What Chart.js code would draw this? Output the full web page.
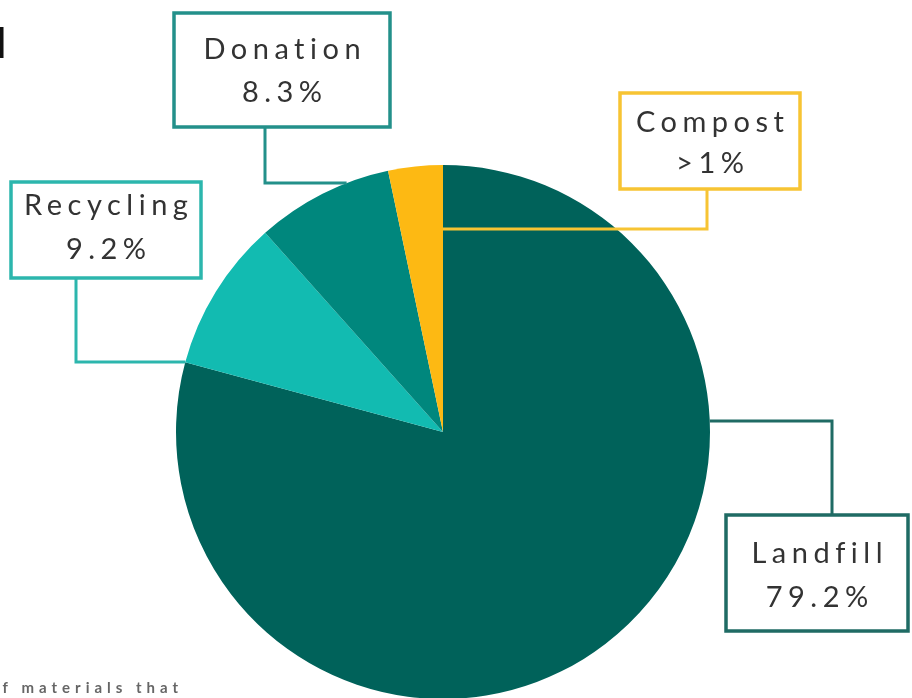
<!DOCTYPE html>
<html>
<head>
<meta charset="utf-8">
<script src="https://cdn.jsdelivr.net/npm/chart.js@4.4.1/dist/chart.umd.min.js"></script>
<style>
  html, body { margin: 0; padding: 0; background: #fff; }
</style>
</head>
<body>
<canvas id="wasteChart" width="912" height="698"></canvas>
<script>
const categories = ["Landfill", "Recycling", "Donation", "Compost"];
const shares = [79.2, 9.2, 8.3, 3.3];
const shareLabels = ["79.2%", "9.2%", "8.3%", ">1%"];
const sliceColors = ["#00625a", "#12bbb1", "#00877d", "#fdb913"];
const boxColors = ["#1f6b64", "#2cb6ad", "#23908a", "#f7c433"];

// callout boxes [x, y, w, h], elbow leader: vertical drop at dropX, horizontal run at runY
const callouts = [
  { box: [726, 515, 182, 116], dropX: 832, runY: 421, side: "right", textY: [563, 607] },
  { box: [11, 182, 190, 96], dropX: 76, runY: 362, side: "left", textY: [215, 259] },
  { box: [174, 13, 216, 114], dropX: 265, runY: 183, side: "left", textY: [59, 102] },
  { box: [620, 93, 180, 96], dropX: 707, runY: 229, side: "center", textY: [132, 173] }
];

const calloutPlugin = {
  id: "callouts",
  afterDatasetsDraw(chart) {
    const ctx = chart.ctx;
    const arc = chart.getDatasetMeta(0).data[0];
    const cx = arc.x, cy = arc.y, r = arc.outerRadius;

    ctx.save();
    callouts.forEach((c, i) => {
      const [bx, by, bw, bh] = c.box;
      // where the run meets the pie
      const dy = c.runY - cy;
      const half = Math.sqrt(Math.max(r * r - dy * dy, 0));
      let endX = cx;
      if (c.side === "right") endX = cx + half;
      if (c.side === "left") endX = cx - half;
      const startY = c.runY < by ? by : by + bh;

      ctx.strokeStyle = boxColors[i];
      ctx.lineWidth = 3;
      ctx.beginPath();
      ctx.moveTo(c.dropX, startY);
      ctx.lineTo(c.dropX, c.runY);
      ctx.lineTo(endX, c.runY);
      ctx.stroke();

      ctx.fillStyle = "#ffffff";
      ctx.fillRect(bx, by, bw, bh);
      ctx.lineWidth = 3.5;
      ctx.strokeRect(bx, by, bw, bh);

      ctx.fillStyle = "#333333";
      ctx.font = "400 29px Lato";
      ctx.letterSpacing = "5.5px";
      ctx.textAlign = "center";
      ctx.textBaseline = "alphabetic";
      const mid = bx + bw / 2 + 2.75;
      ctx.fillText(categories[i], mid, c.textY[0]);
      ctx.fillText(shareLabels[i], mid, c.textY[1]);
    });

    // cropped heading and footnote at the page edges
    ctx.letterSpacing = "0px";
    ctx.fillStyle = "#111111";
    ctx.font = "700 42px Lato";
    ctx.textAlign = "right";
    ctx.fillText("d", 6, 58);

    ctx.fillStyle = "#666666";
    ctx.font = "700 15px Lato";
    ctx.letterSpacing = "5px";
    ctx.textAlign = "left";
    ctx.fillText("of materials that", -11, 693);
    ctx.restore();
  }
};

new Chart(document.getElementById("wasteChart"), {
  type: "pie",
  data: {
    labels: categories,
    datasets: [{
      data: shares,
      backgroundColor: sliceColors,
      borderWidth: 0,
      radius: 267,
      clip: false
    }]
  },
  options: {
    responsive: false,
    animation: false,
    layout: { padding: { top: 166, bottom: 0, left: 0, right: 26 } },
    plugins: {
      legend: { display: false },
      tooltip: { enabled: false }
    }
  },
  plugins: [calloutPlugin]
});
</script>
</body>
</html>
